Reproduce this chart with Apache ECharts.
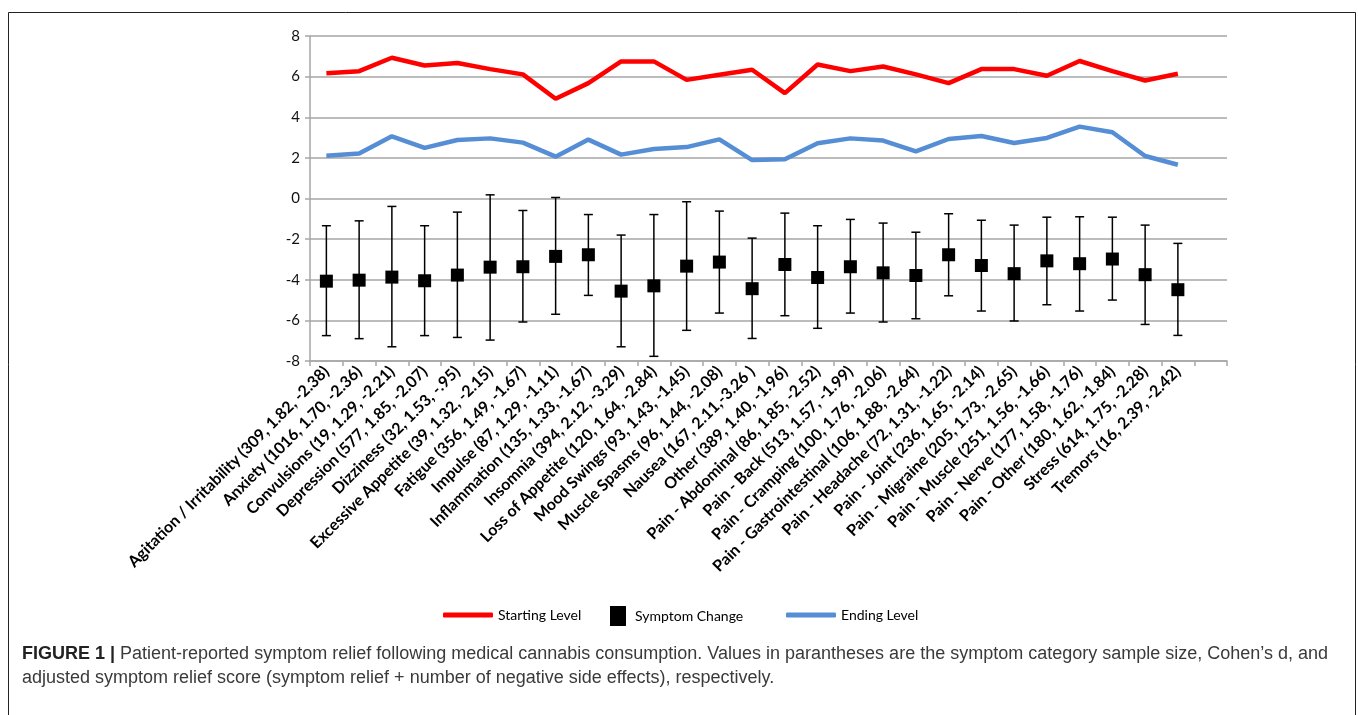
<!DOCTYPE html>
<html>
<head>
<meta charset="utf-8">
<script src="https://cdn.jsdelivr.net/npm/echarts@6/dist/echarts.min.js"></script>
<style>
html,body{margin:0;padding:0;background:#fff;}
#chart{width:1358px;height:715px;}
</style>
</head>
<body>
<div id="chart"></div>
<script>
const categories = [
  'Agitation / Irritability (309, 1.82, -2.38)',
  'Anxiety (1016, 1.70, -2.36)',
  'Convulsions (19, 1.29, -2.21)',
  'Depression (577, 1.85, -2.07)',
  'Dizziness (32, 1.53, -.95)',
  'Excessive Appetite (39, 1.32, -2.15)',
  'Fatigue (356, 1.49, -1.67)',
  'Impulse (87, 1.29, -1.11)',
  'Inflammation (135, 1.33, -1.67)',
  'Insomnia (394, 2.12, -3.29)',
  'Loss of Appetite (120, 1.64, -2.84)',
  'Mood Swings (93, 1.43, -1.45)',
  'Muscle Spasms (96, 1.44, -2.08)',
  'Nausea (167, 2.11,-3.26 )',
  'Other (389, 1.40, -1.96)',
  'Pain - Abdominal (86, 1.85, -2.52)',
  'Pain - Back (513, 1.57, -1.99)',
  'Pain - Cramping (100, 1.76, -2.06)',
  'Pain - Gastrointestinal (106, 1.88, -2.64)',
  'Pain - Headache (72, 1.31, -1.22)',
  'Pain - Joint (236, 1.65, -2.14)',
  'Pain - Migraine (205, 1.73, -2.65)',
  'Pain - Muscle (251, 1.56, -1.66)',
  'Pain - Nerve (177, 1.58, -1.76)',
  'Pain - Other (180, 1.62, -1.84)',
  'Stress (614, 1.75, -2.28)',
  'Tremors (16, 2.39, -2.42)',
  ''
];
const startLevel = [6.17,6.27,6.93,6.55,6.67,6.37,6.11,4.91,5.68,6.75,6.75,5.84,6.09,6.34,5.19,6.60,6.27,6.50,6.11,5.68,6.37,6.37,6.04,6.77,6.27,5.81,6.14];
const endLevel = [2.11,2.22,3.06,2.49,2.88,2.96,2.75,2.06,2.90,2.16,2.44,2.53,2.91,1.89,1.93,2.72,2.96,2.85,2.32,2.93,3.08,2.73,2.98,3.54,3.26,2.09,1.66];
const symptomChange = [-4.07,-4.02,-3.87,-4.05,-3.77,-3.38,-3.36,-2.85,-2.77,-4.56,-4.30,-3.33,-3.13,-4.44,-3.25,-3.89,-3.36,-3.66,-3.79,-2.77,-3.30,-3.70,-3.07,-3.21,-2.98,-3.75,-4.49];
const errHigh = [-1.34,-1.10,-0.39,-1.34,-0.67,0.18,-0.59,0.05,-0.79,-1.80,-0.79,-0.16,-0.62,-1.95,-0.72,-1.34,-1.03,-1.21,-1.66,-0.75,-1.07,-1.31,-0.92,-0.90,-0.92,-1.31,-2.21];
const errLow = [-6.75,-6.90,-7.30,-6.75,-6.84,-6.97,-6.08,-5.70,-4.77,-7.30,-7.77,-6.49,-5.64,-6.89,-5.77,-6.39,-5.64,-6.08,-5.92,-4.79,-5.54,-6.03,-5.23,-5.54,-5.00,-6.20,-6.74];
const yTicks = {min: -8, max: 8, interval: 2};

const chart = echarts.init(document.getElementById('chart'), null, {renderer: 'canvas'});
const errData = symptomChange.map((v, i) => [i, errLow[i], errHigh[i]]);
const gray = '#a6a6a6';
const legendText = {fontFamily: 'Lato', fontSize: 14, color: '#000'};

chart.setOption({
  animation: false,
  backgroundColor: '#fff',
  grid: {left: 310, right: 131, top: 36, bottom: 354, containLabel: false},
  legend: [
    {data: ['Starting Level'], left: 443, top: 608, icon: 'roundRect', itemWidth: 50, itemHeight: 5, itemGap: 0, textStyle: legendText, padding: 0},
    {data: ['Symptom Change'], left: 610, top: 606, icon: 'rect', itemWidth: 16, itemHeight: 20, textStyle: Object.assign({}, legendText, {padding: [0, 0, 0, 4]}), padding: 0},
    {data: ['Ending Level'], left: 786, top: 608, icon: 'roundRect', itemWidth: 50, itemHeight: 5, textStyle: legendText, padding: 0}
  ],
  xAxis: {
    type: 'category',
    data: categories,
    boundaryGap: true,
    axisLine: {onZero: false, lineStyle: {color: gray, width: 1.5}},
    axisTick: {show: true, interval: 0, length: 5, lineStyle: {color: gray, width: 1.5}},
    axisLabel: {interval: 0, rotate: 45, margin: 8, fontFamily: 'Lato', fontWeight: 'bold', fontSize: 16, color: '#000'},
    splitLine: {show: false}
  },
  yAxis: {
    type: 'value',
    min: yTicks.min, max: yTicks.max, interval: yTicks.interval,
    axisLine: {show: true, lineStyle: {color: gray, width: 1.5}},
    axisTick: {show: true, length: 5, lineStyle: {color: gray, width: 1.5}},
    axisLabel: {fontFamily: 'Lato', fontSize: 15, color: '#111', margin: 10},
    splitLine: {lineStyle: {color: gray, width: 1.5}}
  },
  series: [
    {
      name: 'Error', type: 'custom', z: 2,
      data: errData,
      renderItem: function (params, api) {
        const x = api.value(0);
        const lo = api.coord([x, api.value(1)]);
        const hi = api.coord([x, api.value(2)]);
        const w = 4.5;
        const st = {stroke: '#000', lineWidth: 1.5};
        return {type: 'group', children: [
          {type: 'line', shape: {x1: lo[0], y1: lo[1], x2: hi[0], y2: hi[1]}, style: st},
          {type: 'line', shape: {x1: lo[0] - w, y1: lo[1], x2: lo[0] + w, y2: lo[1]}, style: st},
          {type: 'line', shape: {x1: hi[0] - w, y1: hi[1], x2: hi[0] + w, y2: hi[1]}, style: st}
        ]};
      }
    },
    {
      name: 'Starting Level', type: 'line', data: startLevel, z: 3,
      symbol: 'none', lineStyle: {color: '#ff0000', width: 4.5}, itemStyle: {color: '#ff0000'}
    },
    {
      name: 'Symptom Change', type: 'scatter', data: symptomChange, z: 4,
      symbol: 'rect', symbolSize: 13, itemStyle: {color: '#000', opacity: 1}
    },
    {
      name: 'Ending Level', type: 'line', data: endLevel, z: 3,
      symbol: 'none', lineStyle: {color: '#558ed5', width: 4.5}, itemStyle: {color: '#558ed5'}
    }
  ],
  graphic: [
    {type: 'rect', silent: true, shape: {x: 8.5, y: 12.5, width: 1347, height: 720}, style: {fill: 'none', stroke: '#222', lineWidth: 1}},
    {type: 'text', x: 22, y: 654, style: {
      text: '{b|FIGURE 1 |} Patient-reported symptom relief following medical cannabis consumption. Values in parantheses are the symptom category sample size, Cohen\u2019s d, and',
      rich: {b: {fontFamily: 'Liberation Sans', fontWeight: 'bold', fontSize: 18, fill: '#222'}},
      fontFamily: 'Liberation Sans', fontSize: 18, fill: '#3a3a3a', verticalAlign: 'middle'
    }},
    {type: 'text', x: 22, y: 678, style: {
      text: 'adjusted symptom relief score (symptom relief + number of negative side effects), respectively.',
      fontFamily: 'Liberation Sans', fontSize: 18, fill: '#3a3a3a', verticalAlign: 'middle'
    }}
  ]
});
</script>
</body>
</html>
